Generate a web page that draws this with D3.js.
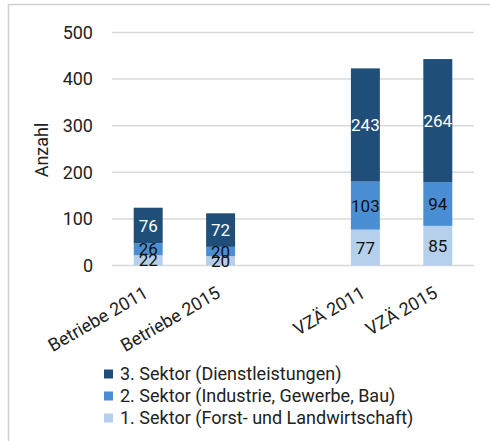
<!DOCTYPE html>
<html>
<head>
<meta charset="utf-8">
<script src="https://cdn.jsdelivr.net/npm/d3@7"></script>
<style>
  body { margin: 0; background: #fff; }
  text { font-family: Roboto, "Liberation Sans", sans-serif; }
</style>
</head>
<body>
<div id="chart"></div>
<script>
(function () {
    // categories (the blank one is the gap between the two groups)
    var categories = ["Betriebe 2011", "Betriebe 2015", "", "VZÄ 2011", "VZÄ 2015"];
    var sektor1 = [22, 20, null, 77, 85];
    var sektor2 = [26, 20, null, 103, 94];
    var sektor3 = [76, 72, null, 243, 264];
    var seriesNames = ["1. Sektor (Forst- und Landwirtschaft)", "2. Sektor (Industrie, Gewerbe, Bau)", "3. Sektor (Dienstleistungen)"];
    var colors = ["#b4d0ec", "#4a8fd3", "#1f4e79"];
    var labelColors = ["#111", "#111", "#fff"];
    var yTicks = [0, 100, 200, 300, 400, 500];

    var W = 490, H = 441;
    var margin = { top: 32.5, right: 16, bottom: 175.5, left: 112 },
        width = W - margin.left - margin.right,
        height = H - margin.top - margin.bottom;

    var svg = d3.select("#chart")
        .append("svg")
        .attr("width", W)
        .attr("height", H);

    // outer frame
    svg.append("rect")
        .attr("x", 8.5).attr("y", 4.5)
        .attr("width", 500).attr("height", 500)
        .attr("fill", "none")
        .attr("stroke", "#d0d0d0")
        .attr("stroke-width", 1.5);

    var g = svg.append("g")
        .attr("transform", "translate(" + margin.left + "," + margin.top + ")");

    var data = categories.map(function (c, i) {
        return { cat: c, key: "c" + i, s1: sektor1[i] || 0, s2: sektor2[i] || 0, s3: sektor3[i] || 0 };
    });

    var x = d3.scaleBand()
        .domain(data.map(function (d) { return d.key; }))
        .range([0, width])
        .paddingInner(0.6)
        .paddingOuter(0.3);

    var y = d3.scaleLinear()
        .domain([0, 500])
        .range([height, 0]);

    // gridlines
    g.append("g")
        .selectAll("line")
        .data(yTicks)
        .enter()
        .append("line")
        .attr("x1", 0)
        .attr("x2", width)
        .attr("y1", function (d) { return y(d); })
        .attr("y2", function (d) { return y(d); })
        .attr("stroke", "#d9d9d9")
        .attr("stroke-width", 1.5);

    // y axis labels
    var yAxis = g.append("g")
        .call(d3.axisLeft(y).tickValues(yTicks).tickSize(0).tickPadding(19));
    yAxis.select(".domain").remove();
    yAxis.selectAll("text")
        .attr("font-size", 18)
        .attr("fill", "#222")
        .style("font-family", "Roboto, sans-serif");

    // y axis title
    g.append("text")
        .attr("transform", "translate(-64," + (150 - margin.top) + ") rotate(-90)")
        .attr("text-anchor", "middle")
        .attr("font-size", 18)
        .attr("fill", "#222")
        .text("Anzahl");

    // stack
    var stack = d3.stack().keys(["s1", "s2", "s3"]);
    var layers = stack(data);

    var layer = g.selectAll(".layer")
        .data(layers)
        .enter()
        .append("g")
        .attr("fill", function (d, i) { return colors[i]; });

    layer.selectAll("rect")
        .data(function (d) { return d.filter(function (p) { return p[1] > p[0]; }); })
        .enter()
        .append("rect")
        .attr("x", function (d) { return x(d.data.key); })
        .attr("width", x.bandwidth())
        .attr("y", function (d) { return y(d[1]); })
        .attr("height", function (d) { return y(d[0]) - y(d[1]); });

    // value labels
    layers.forEach(function (L, i) {
        g.append("g")
            .selectAll("text")
            .data(L.filter(function (p) { return p[1] > p[0]; }))
            .enter()
            .append("text")
            .attr("x", function (d) { return x(d.data.key) + x.bandwidth() / 2; })
            .attr("y", function (d) { return y((d[0] + d[1]) / 2); })
            .attr("dy", "0.36em")
            .attr("text-anchor", "middle")
            .attr("font-size", 17)
            .attr("fill", labelColors[i])
            .text(function (d) { return d[1] - d[0]; });
    });

    // x axis labels
    var xAxis = g.append("g")
        .attr("transform", "translate(0," + height + ")")
        .call(d3.axisBottom(x).tickSize(0).tickPadding(0)
            .tickFormat(function (k) { return categories[+k.slice(1)]; }));
    xAxis.select(".domain").remove();
    xAxis.selectAll("text")
        .attr("font-size", 18)
        .attr("fill", "#222")
        .style("font-family", "Roboto, sans-serif")
        .attr("text-anchor", "end")
        .attr("y", 0)
        .attr("dy", 0)
        .attr("transform", "translate(1,31) rotate(-30)");

    // legend
    var legend = svg.append("g")
        .attr("transform", "translate(104,374)");
    var order = [2, 1, 0];
    order.forEach(function (si, row) {
        var item = legend.append("g").attr("transform", "translate(0," + row * 22 + ")");
        item.append("rect")
            .attr("width", 9).attr("height", 9)
            .attr("y", -4.5)
            .attr("fill", colors[si]);
        item.append("text")
            .attr("x", 16)
            .attr("y", 0)
            .attr("dy", "0.36em")
            .attr("font-size", 18)
            .attr("fill", "#222")
            .text(seriesNames[si]);
    });
})();
</script>
</body>
</html>
